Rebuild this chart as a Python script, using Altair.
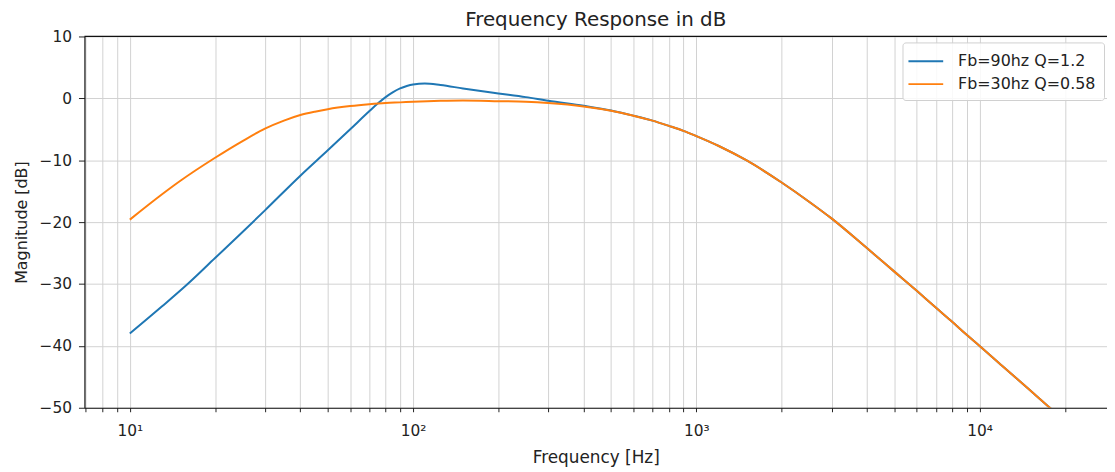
import altair as alt
import pandas as pd

# ---- data ----
series_names = ["Fb=90hz Q=1.2", "Fb=30hz Q=0.58"]
series_colors = ["#1f77b4", "#ff7f0e"]

freq_blue = [10, 13, 16, 20, 25, 30, 40, 50, 60, 70, 75, 80, 85, 90, 95, 100, 110, 125, 150,
             200, 250, 300, 400, 500, 600, 700, 800, 900, 1000, 1200, 1500, 2000, 2500,
             3000, 4000, 5000, 6000, 7000, 8000, 9000, 10000, 12000, 15000, 17400, 20000]
mag_blue = [-38.0, -33.6, -30.0, -25.8, -21.6, -18.1, -12.5, -8.4, -5.0, -2.1, -0.85, 0.2, 1.0, 1.6, 2.0, 2.25, 2.4, 2.15, 1.6,
            0.8, 0.2, -0.4, -1.2, -1.95, -2.8, -3.6, -4.45, -5.25, -6.1, -7.7, -10.0, -13.6, -16.7,
            -19.4, -24.2, -28.0, -31.1, -33.8, -36.1, -38.2, -40.0, -43.2, -47.1, -49.7, -52.1]

freq_orange = [10, 13, 15, 20, 25, 30, 35, 40, 45, 50, 60, 70, 80, 90, 100, 125, 150,
               200, 250, 300, 400, 500, 600, 700, 800, 900, 1000, 1200, 1500, 2000, 2500,
               3000, 4000, 5000, 6000, 7000, 8000, 9000, 10000, 12000, 15000, 17400, 20000]
mag_orange = [-19.6, -15.5, -13.4, -9.6, -6.9, -4.9, -3.6, -2.7, -2.15, -1.75, -1.25, -0.95, -0.75, -0.65, -0.55, -0.4, -0.35,
              -0.45, -0.55, -0.75, -1.3, -2.0, -2.8, -3.6, -4.45, -5.25, -6.1, -7.7, -10.0, -13.6, -16.7,
              -19.4, -24.2, -28.0, -31.1, -33.8, -36.1, -38.2, -40.0, -43.2, -47.1, -49.7, -52.1]

x_tick_values = [7, 8, 9, 10, 20, 30, 40, 50, 60, 70, 80, 90, 100, 200, 300, 400, 500, 600, 700, 800, 900,
                 1000, 2000, 3000, 4000, 5000, 6000, 7000, 8000, 9000, 10000, 20000]
y_tick_values = [-50, -40, -30, -20, -10, 0, 10]
x_domain = [6.916, 28160]
y_domain = [-50, 10]

df = pd.concat([
    pd.DataFrame({"freq": freq_blue, "mag": mag_blue, "series": series_names[0]}),
    pd.DataFrame({"freq": freq_orange, "mag": mag_orange, "series": series_names[1]}),
])

FONT = "DejaVu Sans"
TXT = "#222222"
PLOT_W = 1030
PLOT_H = 374

x_label_expr = ("datum.value == 10 ? '10¹' : datum.value == 100 ? '10²' : "
                "datum.value == 1000 ? '10³' : datum.value == 10000 ? '10⁴' : ''")

lines = alt.Chart(df).mark_line(strokeWidth=2, clip=True, interpolate="monotone").encode(
    x=alt.X("freq:Q",
            scale=alt.Scale(type="log", domain=x_domain, nice=False),
            axis=alt.Axis(values=x_tick_values, labelExpr=x_label_expr, title="Frequency [Hz]",
                          tickSize=4, labelPadding=12, titlePadding=11, labelFontSize=15.5,
                          labelFlush=False, labelOverlap=False)),
    y=alt.Y("mag:Q",
            scale=alt.Scale(domain=y_domain, nice=False, zero=False),
            axis=alt.Axis(values=y_tick_values, title="Magnitude [dB]",
                          labelExpr="replace(datum.label, '-', '−')",
                          tickSize=6, labelPadding=7, titlePadding=10, labelFontSize=15.5,
                          titleFontSize=16)),
    color=alt.Color("series:N",
                    scale=alt.Scale(domain=series_names, range=series_colors),
                    legend=alt.Legend(title=None, orient="none", legendX=824, legendY=6,
                                      symbolType="M-1.75,0H1.75", symbolSize=400, symbolStrokeWidth=2,
                                      symbolOffset=4.5,
                                      labelFontSize=16, labelFont=FONT, labelColor=TXT,
                                      padding=8, rowPadding=4, labelOffset=21.5,
                                      strokeColor="#d0d0d0", fillColor="rgba(255,255,255,0.85)",
                                      cornerRadius=3)),
)

top_border = alt.Chart(pd.DataFrame({"a": [0]})).mark_rule(color="#111111", strokeWidth=1.2).encode(
    y=alt.value(0), x=alt.value(0), x2=alt.value(PLOT_W)
)

chart = alt.layer(lines, top_border).properties(
    width=PLOT_W,
    height=PLOT_H,
    title=alt.TitleParams("Frequency Response in dB", fontSize=20, font=FONT, fontWeight="normal",
                          color=TXT, offset=0, anchor="middle", frame="group"),
    padding={"left": 77, "top": 27, "right": 0, "bottom": 60},
    autosize=alt.AutoSizeParams(type="none"),
).configure_view(stroke=None).configure_axis(
    labelFont=FONT, titleFont=FONT, labelColor=TXT, titleColor=TXT,
    titleFontSize=17, titleFontWeight="normal",
    gridColor="#d2d2d2", gridWidth=1, gridOpacity=1,
    domainColor="#111111", domainWidth=1.2, tickColor="#222222", tickWidth=1,
)

chart.save("out.html", embed_options={"renderer": "svg", "actions": False})
